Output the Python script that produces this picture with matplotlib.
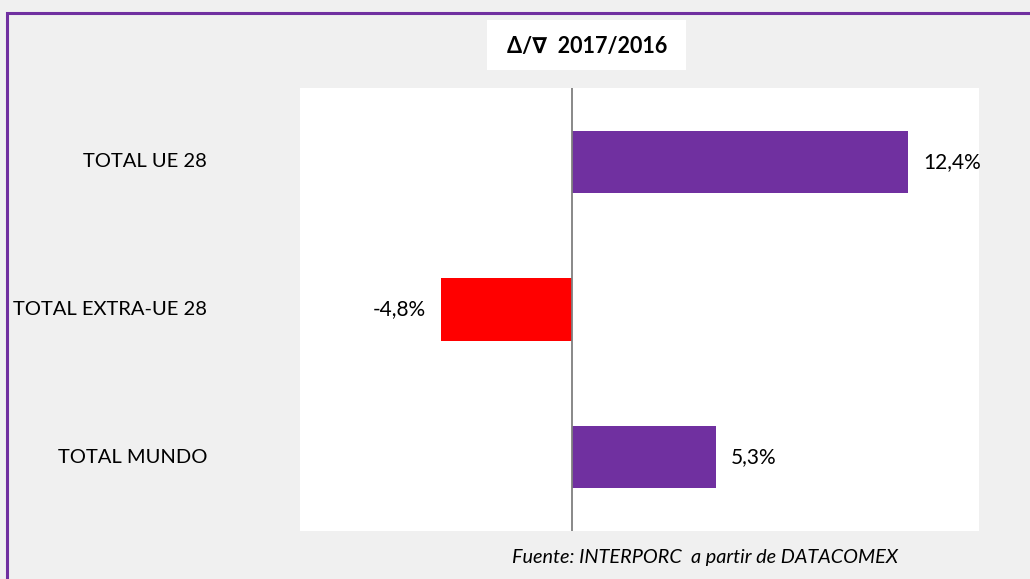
import matplotlib
matplotlib.use("Agg")
import matplotlib.pyplot as plt
from matplotlib.patches import Rectangle

categories = ["TOTAL UE 28", "TOTAL EXTRA-UE 28", "TOTAL MUNDO"]
values = [12.4, -4.8, 5.3]
labels = ["12,4%", "-4,8%", "5,3%"]
colors = ["#7030a0", "#ff0000", "#7030a0"]

W, H = 1030, 579
fig = plt.figure(figsize=(W / 100, H / 100), dpi=100)
fig.patch.set_facecolor("#f0f0f0")
plt.rcParams['font.family'] = ['Lato', 'DejaVu Sans']

# purple border (right/bottom cropped off)
fig.patches.append(Rectangle((7 / W, -0.05), 1.1, (H - 13) / H + 0.05,
                             transform=fig.transFigure, fill=False,
                             edgecolor="#7030a0", linewidth=2.2))

ax = fig.add_axes([300 / W, 1 - 531 / H, (979 - 300) / W, (531 - 88) / H])
ax.set_facecolor("white")
y = list(range(len(categories)))
ax.barh(y, values, height=0.42, color=colors)
ax.set_xlim(-10, 15)
ax.set_ylim(len(categories) - 0.5, -0.5)
ax.axvline(0, color="#7f7f7f", linewidth=1.3)
for s in ax.spines.values():
    s.set_visible(False)
ax.set_xticks([])
ax.set_yticks([])

for yi, v, lab in zip(y, values, labels):
    if v >= 0:
        ax.text(v + 0.55, yi, lab, ha="left", va="center", fontsize=15)
    else:
        ax.text(v - 0.55, yi, lab, ha="right", va="center", fontsize=15)
    ax.text(-10 - (300 - 207) / 27.16, yi, categories[yi], ha="right",
            va="center", fontsize=14.5)

# title box
fig.patches.append(Rectangle((487 / W, 1 - 70 / H), (686 - 487) / W, 50 / H,
                             transform=fig.transFigure, facecolor="white",
                             edgecolor="none", zorder=0))
fig.text(587 / W, 1 - 46 / H, "Δ/∇  2017/2016", ha="center", va="center",
         fontsize=15.5, fontweight="bold", family=['Lato', 'DejaVu Sans'])

fig.text(512 / W, 1 - 557 / H, "Fuente: INTERPORC  a partir de DATACOMEX",
         ha="left", va="center", fontsize=14.3, style="italic")

fig.savefig("out.png", dpi=100, facecolor=fig.get_facecolor())
